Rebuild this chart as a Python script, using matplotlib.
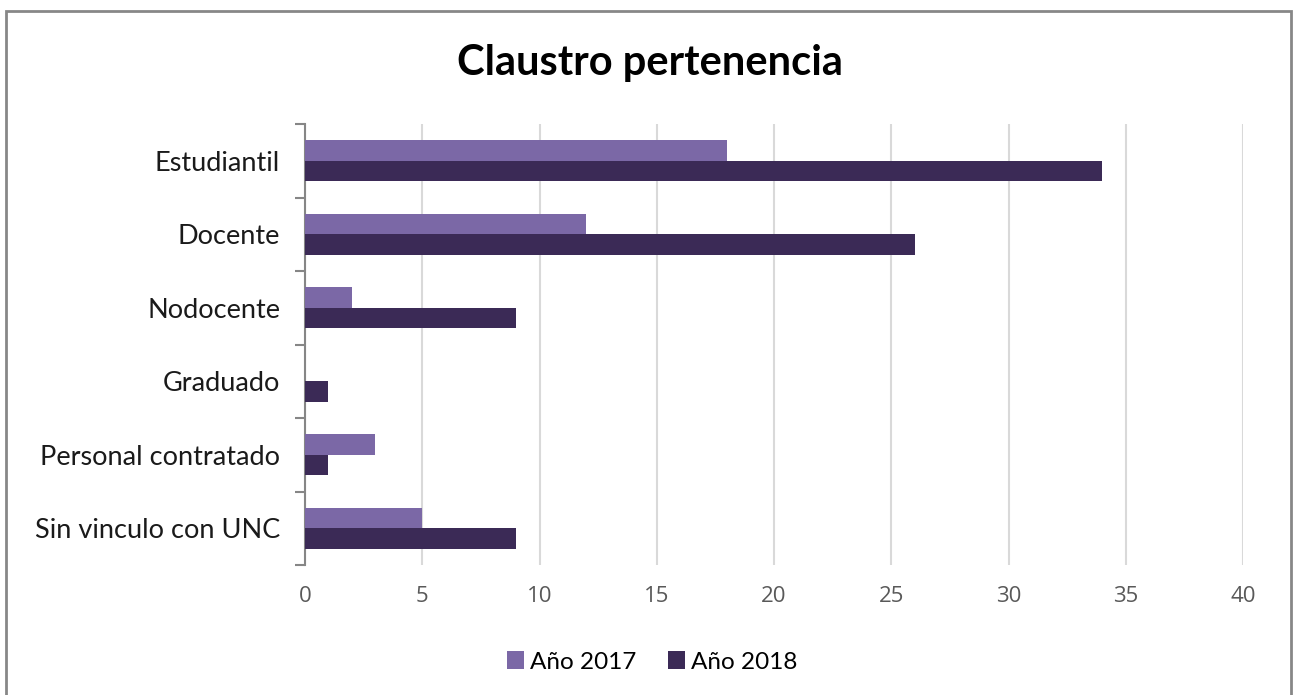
import matplotlib
matplotlib.use("Agg")
import matplotlib.pyplot as plt
import numpy as np
from matplotlib.patches import Rectangle

categories = ["Estudiantil", "Docente", "Nodocente", "Graduado", "Personal contratado", "Sin vinculo con UNC"]
values_2017 = [18, 12, 2, 0, 3, 5]
values_2018 = [34, 26, 9, 1, 1, 9]
series_labels = ["Año 2017", "Año 2018"]
x_ticks = [0, 5, 10, 15, 20, 25, 30, 35, 40]

c2017 = "#7B68A6"
c2018 = "#3B2A56"

fig = plt.figure(figsize=(12.97, 6.95), dpi=100)
W, H = 1297, 695
ax = fig.add_axes([305 / W, 1 - 565 / H, (1243 - 305) / W, (565 - 124) / H])

n = len(categories)
y = np.arange(n)
h = 0.28
ax.barh(y - h / 2, values_2017, height=h, color=c2017, label=series_labels[0], zorder=3)
ax.barh(y + h / 2, values_2018, height=h, color=c2018, label=series_labels[1], zorder=3)

ax.set_ylim(n - 0.5, -0.5)
ax.set_xlim(0, 40)
ax.set_xticks(x_ticks)
ax.set_xticklabels([str(t) for t in x_ticks], fontsize=16, color="#595959", family="Open Sans")
ax.tick_params(axis="x", length=0, pad=15)
ax.xaxis.grid(True, color="#D9D9D9", linewidth=1.5, zorder=0)

ax.set_yticks(y)
ax.set_yticklabels(categories, fontsize=19.5, color="#1a1a1a", family="Lato")
ax.set_yticks(np.arange(-0.5, n, 1.0), minor=True)
ax.tick_params(axis="y", which="major", length=0, pad=18)
ax.tick_params(axis="y", which="minor", length=7, width=1.5, color="#868686")

for s in ["top", "right", "bottom"]:
    ax.spines[s].set_visible(False)
ax.spines["left"].set_color("#868686")
ax.spines["left"].set_linewidth(1.5)

fig.text(650 / W, 1 - 63 / H, "Claustro pertenencia", ha="center", va="center",
         fontsize=30, fontweight="bold", family="Lato", color="black")

leg = fig.legend(loc="center", bbox_to_anchor=(652 / W, 1 - 662 / H), ncol=2, frameon=False,
                 handlelength=0.7, handleheight=0.7, handletextpad=0.25, columnspacing=1.3,
                 prop={"family": "Lato", "size": 17.5})

fig.patches.append(Rectangle((6 / W, -0.05), (1291 - 6) / W, 1 - 11 / H + 0.05,
                             transform=fig.transFigure, fill=False, edgecolor="#878787", linewidth=2))

fig.savefig("out.png", dpi=100)
